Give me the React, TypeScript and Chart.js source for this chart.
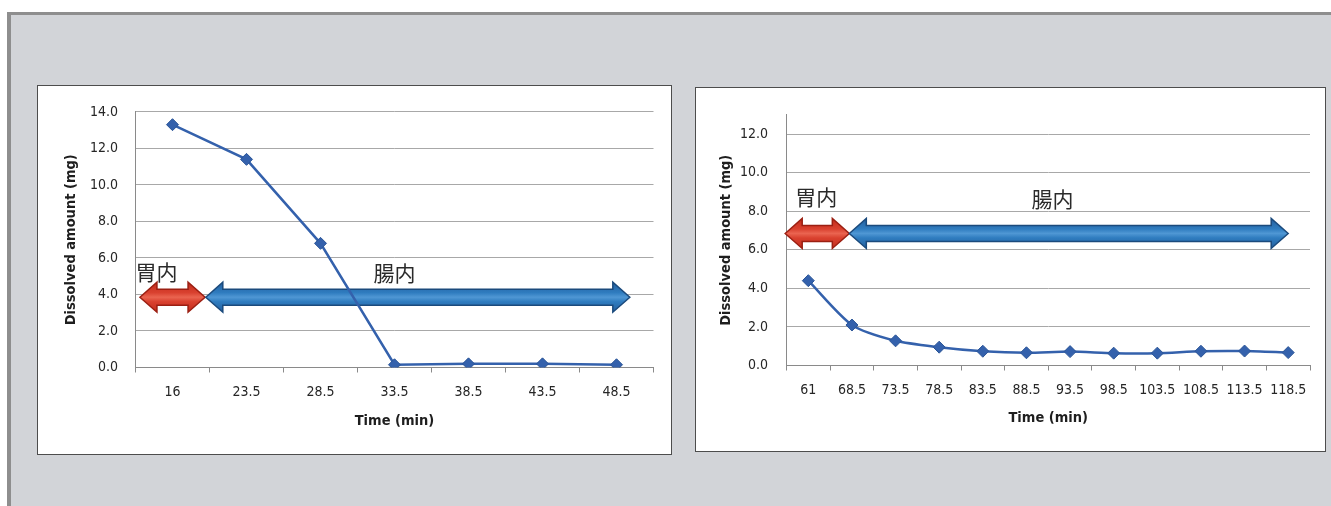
import React, { useEffect, useRef } from "react";
import { Chart, registerables } from "chart.js";

Chart.register(...registerables);

// Sampling times (min) and dissolved amounts (mg)
const earlyTimes = ["16", "23.5", "28.5", "33.5", "38.5", "43.5", "48.5"];
const earlyAmounts = [13.3, 11.4, 6.8, 0.15, 0.2, 0.2, 0.15];

const lateTimes = ["61", "68.5", "73.5", "78.5", "83.5", "88.5", "93.5", "98.5", "103.5", "108.5", "113.5", "118.5"];
const lateAmounts = [4.4, 2.1, 1.28, 0.95, 0.74, 0.66, 0.72, 0.64, 0.64, 0.74, 0.75, 0.67];

// Region arrows: [from index, to index] on the time axis, drawn at a level in mg
const regionNames = ["胃内", "腸内"];
const earlyStomachSpan = [-0.44, 0.44];
const earlyIntestineSpan = [0.45, 6.18];
const earlyArrowLevel = 3.85;
const earlyLabelAnchors = [[-0.5, 5.25], [3.0, 5.2]];

const lateStomachSpan = [-0.53, 0.94];
const lateIntestineSpan = [0.94, 11.0];
const lateArrowLevel = 6.85;
const lateLabelAnchors = [[-0.3, 8.75], [5.6, 8.65]];

const LATIN = "'Liberation Sans Narrow', 'DejaVu Sans Condensed', 'Open Sans', sans-serif";
const CJK = "'Noto Sans CJK JP', 'Noto Sans CJK SC', sans-serif";
const LINE_BLUE = "#3461ac";

type Palette = { edge: string; dark: string; light: string; mid: string };
const RED: Palette = { edge: "#9b1f12", dark: "#c32c1c", light: "#ea6450", mid: "#d9412f" };
const BLUE: Palette = { edge: "#1b4a7c", dark: "#245f9e", light: "#4f97d4", mid: "#2f7cbf" };

function doubleArrow(ctx: CanvasRenderingContext2D, x1: number, x2: number, yc: number, p: Palette) {
  const head = 17;
  const headHalf = 15;
  const shaftHalf = 8;
  ctx.save();
  ctx.beginPath();
  ctx.moveTo(x1, yc);
  ctx.lineTo(x1 + head, yc - headHalf);
  ctx.lineTo(x1 + head, yc - shaftHalf);
  ctx.lineTo(x2 - head, yc - shaftHalf);
  ctx.lineTo(x2 - head, yc - headHalf);
  ctx.lineTo(x2, yc);
  ctx.lineTo(x2 - head, yc + headHalf);
  ctx.lineTo(x2 - head, yc + shaftHalf);
  ctx.lineTo(x1 + head, yc + shaftHalf);
  ctx.lineTo(x1 + head, yc + headHalf);
  ctx.closePath();
  const g = ctx.createLinearGradient(0, yc - headHalf, 0, yc + headHalf);
  g.addColorStop(0, p.dark);
  g.addColorStop(0.35, p.mid);
  g.addColorStop(0.5, p.light);
  g.addColorStop(0.65, p.mid);
  g.addColorStop(1, p.dark);
  ctx.fillStyle = g;
  ctx.fill();
  ctx.lineWidth = 1.5;
  ctx.strokeStyle = p.edge;
  ctx.stroke();
  ctx.restore();
}

function regionPlugin(stomach: number[], intestine: number[], level: number, anchors: number[][]) {
  return {
    id: "regions",
    beforeDatasetsDraw(chart: any) {
      const { ctx } = chart;
      const xs = chart.scales.x;
      const ys = chart.scales.y;
      const yc = ys.getPixelForValue(level);
      doubleArrow(ctx, xs.getPixelForValue(stomach[0]), xs.getPixelForValue(stomach[1]), yc, RED);
      doubleArrow(ctx, xs.getPixelForValue(intestine[0]), xs.getPixelForValue(intestine[1]), yc, BLUE);
      ctx.save();
      ctx.font = `21px ${CJK}`;
      ctx.fillStyle = "#2a2a2a";
      ctx.textBaseline = "middle";
      anchors.forEach((a, i) => {
        ctx.textAlign = i === 0 ? "left" : "center";
        ctx.fillText(regionNames[i], xs.getPixelForValue(a[0]), ys.getPixelForValue(a[1]));
      });
      ctx.restore();
    },
  };
}

type PanelProps = {
  left: number;
  top: number;
  width: number;
  height: number;
  labels: string[];
  values: number[];
  yMax: number;
  tension: number;
  plotLeft: number;
  plotRight: number;
  plotTop: number;
  plotBottom: number;
  yTickGap: number;
  yTitleX: number;
  xLabelY: number;
  xTitleY: number;
  plugin: any;
};

function Panel(p: PanelProps) {
  const ref = useRef<HTMLCanvasElement | null>(null);
  const w = p.width - 2;
  const h = p.height - 2;

  useEffect(() => {
    if (!ref.current) return;
    const tickSize = 14;
    const titleSize = 14.5;
    const tickFont = { family: LATIN, size: tickSize };
    const titleFont = { family: LATIN, size: titleSize, weight: "bold" as const };
    const tickLh = tickSize * 1.2;
    const titleLh = titleSize * 1.2;
    const chart = new Chart(ref.current, {
      type: "line",
      data: {
        labels: p.labels,
        datasets: [
          {
            data: p.values,
            borderColor: LINE_BLUE,
            backgroundColor: LINE_BLUE,
            borderWidth: 2.5,
            tension: p.tension,
            pointStyle: "rectRot",
            pointRadius: 6,
            pointBorderWidth: 1,
            pointBackgroundColor: LINE_BLUE,
            pointBorderColor: "#2b5597",
          },
        ],
      },
      options: {
        responsive: false,
        animation: false,
        layout: { padding: { left: 0, right: w - p.plotRight, top: p.plotTop, bottom: 0 } },
        plugins: { legend: { display: false }, tooltip: { enabled: false } },
        scales: {
          x: {
            type: "category",
            offset: true,
            grid: { display: true, drawOnChartArea: false, drawTicks: true, tickLength: 5, color: "#8a8a8a", offset: true },
            border: { display: true, color: "#8a8a8a", width: 1 },
            ticks: {
              color: "#262626",
              font: tickFont,
              padding: p.xLabelY - p.plotBottom - 5 - tickLh / 2,
              maxRotation: 0,
              autoSkip: false,
            },
            title: {
              display: true,
              text: "Time (min)",
              color: "#1e1e1e",
              font: titleFont,
              padding: { top: 0, bottom: h - p.xTitleY - titleLh / 2 },
            },
            afterFit: (s: any) => {
              s.height = h - p.plotBottom;
            },
          },
          y: {
            min: 0,
            max: p.yMax,
            grid: { color: "#a8a8a8", drawTicks: false, lineWidth: 1 },
            border: { display: true, color: "#8a8a8a", width: 1 },
            ticks: {
              stepSize: 2,
              includeBounds: false,
              color: "#262626",
              font: tickFont,
              padding: p.yTickGap,
              callback: (v: any) => Number(v).toFixed(1),
            },
            title: {
              display: true,
              text: "Dissolved amount (mg)",
              color: "#1e1e1e",
              font: titleFont,
              padding: { top: p.yTitleX - titleLh / 2, bottom: 0 },
            },
            afterFit: (s: any) => {
              s.width = p.plotLeft;
            },
          },
        },
      },
      plugins: [p.plugin],
    });
    return () => chart.destroy();
  }, []);

  return (
    <div
      style={{
        position: "absolute",
        left: p.left,
        top: p.top,
        width: p.width,
        height: p.height,
        boxSizing: "border-box",
        border: "1px solid #4d4d4d",
        background: "#ffffff",
      }}
    >
      <canvas ref={ref} width={w} height={h} style={{ display: "block", width: w, height: h }} />
    </div>
  );
}

export default function App() {
  return (
    <div
      style={{
        position: "absolute",
        left: 0,
        top: 0,
        width: 1331,
        height: 506,
        overflow: "hidden",
        background: "#ffffff",
      }}
    >
      <div
        style={{
          position: "absolute",
          left: 7,
          top: 12,
          width: 1340,
          height: 520,
          boxSizing: "border-box",
          borderTop: "3px solid #8e8e8e",
          borderLeft: "4px solid #8e8e8e",
          background: "#d2d4d8",
        }}
      />
      <Panel
        left={37}
        top={85}
        width={635}
        height={370}
        labels={earlyTimes}
        values={earlyAmounts}
        yMax={14}
        tension={0}
        plotLeft={97.5}
        plotRight={615.5}
        plotTop={19}
        plotBottom={281.5}
        yTickGap={17.5}
        yTitleX={33}
        xLabelY={306}
        xTitleY={335}
        plugin={regionPlugin(earlyStomachSpan, earlyIntestineSpan, earlyArrowLevel, earlyLabelAnchors)}
      />
      <Panel
        left={695}
        top={87}
        width={631}
        height={365}
        labels={lateTimes}
        values={lateAmounts}
        yMax={13}
        tension={0.25}
        plotLeft={90.5}
        plotRight={614}
        plotTop={20}
        plotBottom={277.5}
        yTickGap={18.5}
        yTitleX={30}
        xLabelY={302}
        xTitleY={330}
        plugin={regionPlugin(lateStomachSpan, lateIntestineSpan, lateArrowLevel, lateLabelAnchors)}
      />
    </div>
  );
}
